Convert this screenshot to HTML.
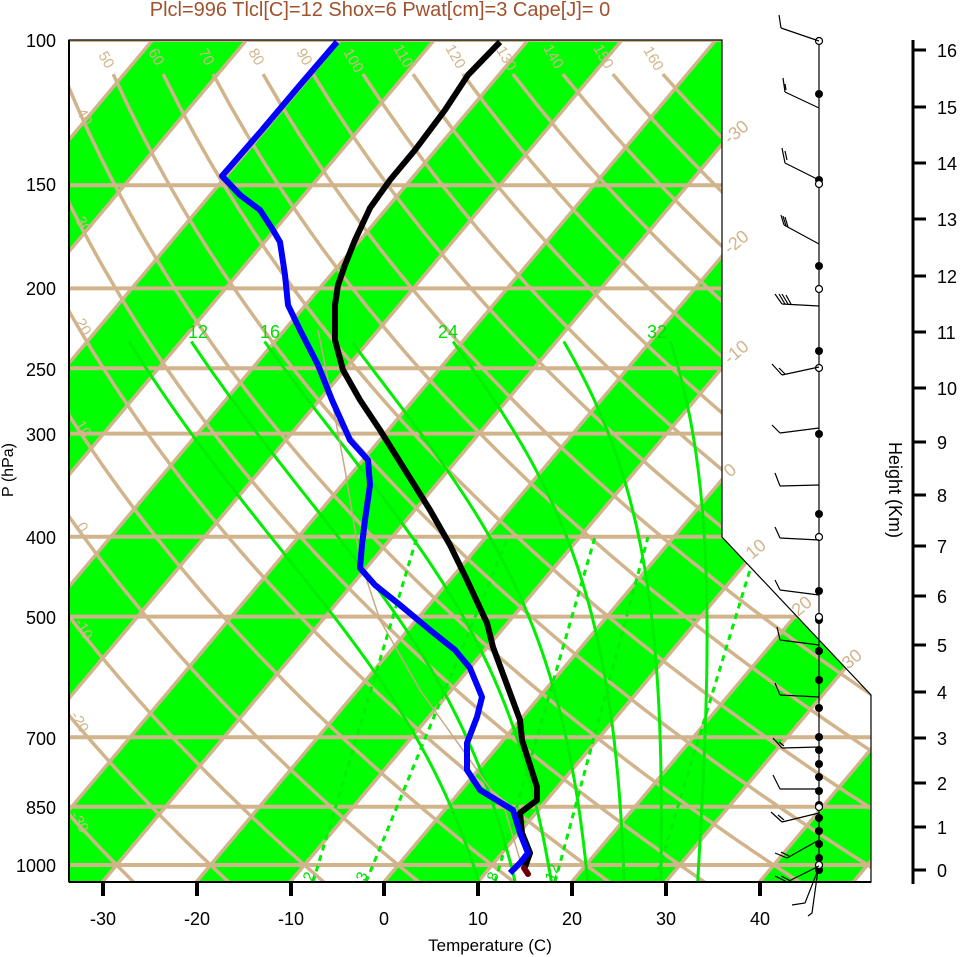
<!DOCTYPE html>
<html><head><meta charset="utf-8"><style>
body{margin:0;background:#fff}
svg{display:block;font-family:"Liberation Sans",sans-serif}
</style></head><body>
<svg id="s" width="961" height="957" viewBox="0 0 961 957" xmlns="http://www.w3.org/2000/svg">
<defs><clipPath id="cp"><polygon points="69,40 722,40 722,537 871,695 871,882 69,882"/></clipPath></defs>
<g id="bg" clip-path="url(#cp)"></g>
<g id="data"></g>
<polygon points="69,40 722,40 722,537 871,695 871,882 69,882" fill="none" stroke="#000" stroke-width="1.2"/>
<line x1="69" y1="40" x2="69" y2="882" stroke="#000" stroke-width="2"/>
<line x1="69" y1="882" x2="871" y2="882" stroke="#000" stroke-width="2"/>
<text x="380" y="16" fill="#a0522d" font-size="20" text-anchor="middle">Plcl=996 Tlcl[C]=12 Shox=6 Pwat[cm]=3 Cape[J]= 0</text>
<g font-size="18" text-anchor="end" fill="#000">
<text x="56" y="47">100</text><text x="56" y="191">150</text><text x="56" y="295">200</text><text x="56" y="376">250</text><text x="56" y="441">300</text><text x="56" y="544">400</text><text x="56" y="624">500</text><text x="56" y="745">700</text><text x="56" y="814">850</text><text x="56" y="872">1000</text>
</g>
<text transform="translate(13,470) rotate(-90)" font-size="16" text-anchor="middle">P (hPa)</text>
<g font-size="18" text-anchor="middle">
<text x="103" y="925">-30</text><text x="197" y="925">-20</text><text x="291" y="925">-10</text><text x="384" y="925">0</text><text x="478" y="925">10</text><text x="572" y="925">20</text><text x="666" y="925">30</text><text x="760" y="925">40</text>
</g>
<text x="490" y="951" font-size="17" text-anchor="middle">Temperature (C)</text>
<g stroke="#000" stroke-width="4">
<line x1="103" y1="882" x2="103" y2="896"/><line x1="197" y1="882" x2="197" y2="896"/><line x1="291" y1="882" x2="291" y2="896"/><line x1="384" y1="882" x2="384" y2="896"/><line x1="478" y1="882" x2="478" y2="896"/><line x1="572" y1="882" x2="572" y2="896"/><line x1="666" y1="882" x2="666" y2="896"/><line x1="760" y1="882" x2="760" y2="896"/>
</g>
<g fill="#d2b48c" font-size="18">
<text transform="translate(730,145) rotate(-40)">-30</text>
<text transform="translate(730,255) rotate(-40)">-20</text>
<text transform="translate(730,365) rotate(-40)">-10</text>
<text transform="translate(730,478) rotate(-40)">0</text>
<text transform="translate(752,560) rotate(-40)">10</text>
<text transform="translate(798,617) rotate(-40)">20</text>
<text transform="translate(848,670) rotate(-40)">30</text>
<g font-size="15">
<text transform="translate(98,55) rotate(60)">50</text><text transform="translate(148,52) rotate(60)">60</text><text transform="translate(198,52) rotate(60)">70</text><text transform="translate(248,52) rotate(60)">80</text><text transform="translate(296,52) rotate(60)">90</text><text transform="translate(343,52) rotate(60)">100</text><text transform="translate(393,48) rotate(60)">110</text><text transform="translate(445,48) rotate(60)">120</text><text transform="translate(496,50) rotate(60)">130</text><text transform="translate(543,48) rotate(60)">140</text><text transform="translate(593,48) rotate(60)">150</text><text transform="translate(643,50) rotate(60)">160</text>
<text transform="translate(76,112) rotate(60)">40</text><text transform="translate(75,220) rotate(60)">30</text><text transform="translate(75,322) rotate(60)">20</text><text transform="translate(75,424) rotate(60)">10</text><text transform="translate(76,526) rotate(60)">0</text><text transform="translate(74,622) rotate(60)">-10</text><text transform="translate(70,715) rotate(60)">-20</text><text transform="translate(70,815) rotate(60)">-30</text>
</g></g>
<g fill="#00e000" font-size="18" text-anchor="middle">
<text x="198" y="338">12</text><text x="270" y="338">16</text><text x="448" y="338">24</text><text x="657" y="338">32</text>
</g>
<g fill="#00e000" font-size="15">
<text transform="translate(312,882) rotate(-70)">2</text><text transform="translate(365,882) rotate(-70)">3</text><text transform="translate(496,882) rotate(-70)">8</text><text transform="translate(554,882) rotate(-70)">12</text>
</g>
<g id="hax" stroke="#000" stroke-width="3"><line x1="913" y1="40" x2="913" y2="884"/></g>
<g font-size="18">
<text x="937" y="57">16</text><text x="937" y="114">15</text><text x="937" y="170">14</text><text x="937" y="226">13</text><text x="937" y="283">12</text><text x="937" y="339">11</text><text x="937" y="395">10</text><text x="937" y="449">9</text><text x="937" y="502">8</text><text x="937" y="553">7</text><text x="937" y="603">6</text><text x="937" y="652">5</text><text x="937" y="699">4</text><text x="937" y="745">3</text><text x="937" y="790">2</text><text x="937" y="834">1</text><text x="937" y="877">0</text>
</g>
<text transform="translate(889,490) rotate(90)" font-size="18" text-anchor="middle">Height (Km)</text>
<g id="wind" stroke="#000" stroke-width="1.2" fill="none"><line x1="819" y1="40" x2="819" y2="870"/></g>
</svg>
<script>
var NS="http://www.w3.org/2000/svg";
function el(par,tag,a){var e=document.createElementNS(NS,tag);for(var k in a)e.setAttribute(k,a[k]);par.appendChild(e);return e;}
var bg=document.getElementById('bg'),data=document.getElementById('data');
function Y(p){return 865-358.3*Math.log(1000/p);}
function X(T,y){return 384+9.386*T+(882-y)*0.84;}
el(bg,'rect',{x:0,y:0,width:961,height:957,fill:'#fff'});
for(var n=-16;n<6;n+=2){var T=n*10;
 el(bg,'polygon',{points:[X(T,882),882,X(T+10,882),882,X(T+10,40),40,X(T,40),40].join(' '),fill:'#00ff00'});}
var tan='#d2b48c';
[100,150,200,250,300,400,500,700,850,1000].forEach(function(p){var y=Y(p);el(bg,'line',{x1:60,y1:y,x2:880,y2:y,stroke:tan,'stroke-width':4});});
for(var T=-160;T<=60;T+=10){el(bg,'line',{x1:X(T,882),y1:882,x2:X(T,40),y2:40,stroke:tan,'stroke-width':3.5});}
for(var th=-30;th<=160;th+=10){var pts=[];for(var p=110;p<=1060;p+=10){var y=Y(p);var t=(th+273.15)*Math.pow(p/1000,0.2857)-273.15;pts.push(X(t,y).toFixed(1)+','+y.toFixed(1));}
 el(bg,'polyline',{points:pts.join(' '),fill:'none',stroke:tan,'stroke-width':3.5});}
function es(tc){return 6.112*Math.exp(17.67*tc/(tc+243.5));}
function dTdp(T,p){var e=es(T-273.15),rs=0.622*e/(p-e);var Lv=2.5e6,Rd=287,cp=1005;return (Rd*T+Lv*rs)/(p*(cp+Lv*Lv*rs*0.622/(Rd*T*T)));}
for(var tw=8;tw<=32;tw+=4){var T=tw+273.15,p=1000,pts=[];
 while(p>=232){pts.push(X(T-273.15,Y(p)).toFixed(1)+','+Y(p).toFixed(1));var dp=-4;T+=dTdp(T,p)*dp;p+=dp;}
 pts.reverse();T=tw+273.15;p=1000;
 while(p<=1052){var dp=4;T+=dTdp(T,p)*dp;p+=dp;pts.push(X(T-273.15,Y(p)).toFixed(1)+','+Y(p).toFixed(1));}
 el(bg,'polyline',{points:pts.join(' '),fill:'none',stroke:'#00ee00','stroke-width':3});}
[[313,417],[366,508],[495,595],[555,648],[655,760]].forEach(function(a){
 el(bg,'line',{x1:a[0],y1:882,x2:a[1],y2:537,stroke:'#00ee00','stroke-width':3,'stroke-dasharray':'6,5'});});
el(bg,'polyline',{points:'318,330 330,390 345,470 360,560 380,620 420,690 470,760 505,810 520,860',fill:'none',stroke:'#c8a882','stroke-width':1.5});
var blue="337,42 300,85 262,130 222,176 240,195 260,210 273,230 280,242 285,275 288,305 300,330 318,365 332,400 350,440 368,460 370,485 365,520 362,545 360,568 375,585 400,605 430,630 455,650 470,668 482,697 477,717 467,743 467,770 480,790 513,810 520,833 528,853 520,863 510,873";
var black="500,42 468,75 445,110 415,150 390,180 370,208 355,240 345,265 338,285 335,305 335,340 343,370 360,400 380,430 405,470 430,510 450,545 467,580 487,623 493,647 520,720 522,740 537,787 537,800 520,813 522,833 530,853 525,867";
el(data,'polyline',{points:black,fill:'none',stroke:'#000','stroke-width':6,'stroke-linejoin':'round'});
el(data,'polyline',{points:blue,fill:'none',stroke:'#0000ff','stroke-width':6,'stroke-linejoin':'round'});
el(data,'line',{x1:524,y1:868,x2:528,y2:874,stroke:'#6b0000','stroke-width':6,'stroke-linecap':'round'});
var hax=document.getElementById('hax');
[50,107,163,219,276,332,388,442,495,546,596,645,692,738,783,827,870].forEach(function(y){el(hax,'line',{x1:913,y1:y,x2:926,y2:y});});
var w=document.getElementById('wind');
[94,180,266,351,434,514,591,620,651,680,708,737,750,764,777,791,805,818,831,844,858,870].forEach(function(y){el(w,'circle',{cx:819,cy:y,r:4,fill:'#000',stroke:'none'});});
[41,184,289,368,537,617,807,865].forEach(function(y){el(w,'circle',{cx:819,cy:y,r:3.5,fill:'#fff'});});
var barbs=[[41,781,28,[[781,28,779,15]]],[108,785,92,[[785,92,783,78],[786,90,785,84]]],[180,785,163,[[785,163,782,148],[787,160,785,151]]],[244,784,225,[[784,225,781,215],[786,226,783,216],[788,227,785,217]]],[306,782,304,[[782,304,775,294],[785,304,779,294],[788,304,782,294],[791,304,786,295]]],[367,782,375,[[782,375,772,364],[785,374,779,368]]],[428,780,433,[[780,433,772,425]]],[485,780,486,[[780,486,775,473]]],[540,780,538,[[780,538,775,527]]],[595,780,590,[[780,590,775,580]]],[645,780,640,[[780,640,777,627]]],[697,780,695,[[780,695,775,683]]],[747,782,748,[[782,748,773,738],[784,746,779,742]]],[789,780,789,[[780,789,773,775]]],[813,782,822,[[782,822,771,812],[784,820,778,815]]],[840,787,858,[[787,858,775,853],[789,856,781,852]]],[866,787,882,[[787,882,775,876],[789,880,781,876]]]];
barbs.forEach(function(b){el(w,'line',{x1:819,y1:b[0],x2:b[1],y2:b[2]});b[3].forEach(function(c){el(w,'line',{x1:c[0],y1:c[1],x2:c[2],y2:c[3]});});});
el(w,'polyline',{points:'818,870 805,903 792,905'});el(w,'polyline',{points:'818,870 812,913 808,916'});
</script>
</body></html>
